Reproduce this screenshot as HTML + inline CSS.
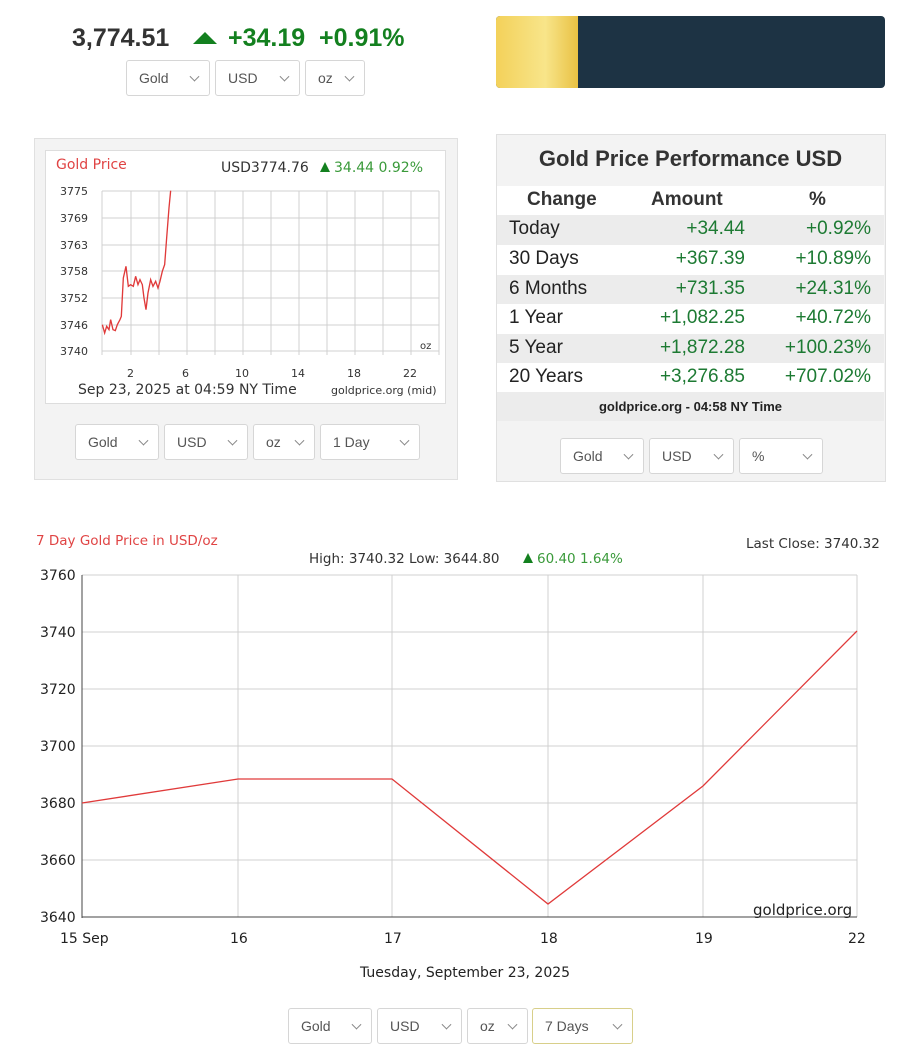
<!DOCTYPE html>
<html><head><meta charset="utf-8"><style>
body{margin:0;width:923px;height:1055px;background:#fff;position:relative;font-family:"Liberation Sans","DejaVu Sans",sans-serif;overflow:hidden}
.a{position:absolute}
.dd{position:absolute;box-sizing:border-box;border:1px solid #d6d6d6;border-radius:3px;background:#fff;font-size:14px;color:#555;padding-left:12px;display:flex;align-items:center}
.dd:after{content:"";position:absolute;right:11px;top:50%;width:6px;height:6px;border-right:1px solid #888;border-bottom:1px solid #888;transform:translateY(-70%) rotate(45deg)}
.row{position:absolute;left:497px;width:387px;height:30px;font-size:19px;color:#222}
.row span{position:absolute;top:3px}
.g{color:#1d7a33}
</style></head><body>
<div class="a" style="left:72px;top:24px;font-size:25px;font-weight:bold;color:#333">3,774.51</div>
<div class="a" style="left:193px;top:32px;width:0;height:0;border-left:12px solid transparent;border-right:12px solid transparent;border-bottom:12px solid #13801f"></div>
<div class="a" style="left:228px;top:24px;font-size:25px;font-weight:bold;color:#13801f">+34.19&nbsp; +0.91%</div>
<div class="dd" style="left:126px;top:60px;width:84px;height:36px">Gold</div>
<div class="dd" style="left:215px;top:60px;width:85px;height:36px">USD</div>
<div class="dd" style="left:305px;top:60px;width:60px;height:36px">oz</div>
<div class="a" style="left:496px;top:16px;width:389px;height:72px;border-radius:4px;background:#1d3344;overflow:hidden"><div style="width:82px;height:72px;background:linear-gradient(90deg,#f3d15a,#f8e58a 60%,#e9c143)"></div></div>

<div class="a" style="left:34px;top:138px;width:424px;height:342px;background:#f3f3f3;border:1px solid #e0e0e0;box-sizing:border-box"></div>
<div class="a" style="left:45px;top:150px;width:401px;height:254px;background:#fff;border:1px solid #ddd;box-sizing:border-box"></div>
<svg class="a" style="left:0;top:0" width="923" height="1055">
<g font-family="DejaVu Sans,sans-serif" font-size="11" fill="#333">
<text x="56" y="169" fill="#e04444" font-size="14">Gold Price</text>
<text x="221" y="172" font-size="14">USD3774.76</text>
<polygon points="320,172 330,172 325,162" fill="#13801f"/>
<text x="334" y="172" font-size="14" fill="#3a9a3a">34.44 0.92%</text>
<g stroke="#d0d0d0" stroke-width="1">
<line x1="102" y1="191" x2="439" y2="191"/><line x1="102" y1="218" x2="439" y2="218"/><line x1="102" y1="245" x2="439" y2="245"/><line x1="102" y1="271" x2="439" y2="271"/><line x1="102" y1="298" x2="439" y2="298"/><line x1="102" y1="325" x2="439" y2="325"/><line x1="102" y1="351" x2="439" y2="351"/>
<line x1="102" y1="191" x2="102" y2="355"/><line x1="131" y1="191" x2="131" y2="355"/><line x1="159" y1="191" x2="159" y2="355"/><line x1="187" y1="191" x2="187" y2="355"/><line x1="215" y1="191" x2="215" y2="355"/><line x1="243" y1="191" x2="243" y2="355"/><line x1="271" y1="191" x2="271" y2="355"/><line x1="299" y1="191" x2="299" y2="355"/><line x1="327" y1="191" x2="327" y2="355"/><line x1="355" y1="191" x2="355" y2="355"/><line x1="383" y1="191" x2="383" y2="355"/><line x1="411" y1="191" x2="411" y2="355"/><line x1="439" y1="191" x2="439" y2="355"/>
</g>
<text x="60" y="195">3775</text><text x="60" y="222">3769</text><text x="60" y="249">3763</text><text x="60" y="275">3758</text><text x="60" y="302">3752</text><text x="60" y="329">3746</text><text x="60" y="355">3740</text>
<text x="420" y="349" font-size="10">oz</text>
<text x="127" y="377">2</text><text x="182" y="377">6</text><text x="235" y="377">10</text><text x="291" y="377">14</text><text x="347" y="377">18</text><text x="403" y="377">22</text>
<text x="78" y="394" font-size="14">Sep 23, 2025 at 04:59 NY Time</text>
<text x="331" y="394" font-size="11">goldprice.org (mid)</text>
<g transform="translate(34,138) scale(0.3333)"><polyline fill="none" stroke="#e03a3a" stroke-width="4" points="205,560 212,585 218,565 225,575 230,545 237,575 244,578 250,560 258,545 262,535 268,420 276,385 283,445 290,440 298,445 305,415 312,440 318,425 325,440 330,480 336,515 342,465 350,425 357,445 365,430 372,450 378,430 385,400 392,380 398,300 405,210 410,158"/></g>

<text x="36" y="545" fill="#e04444" font-size="13.5">7 Day Gold Price in USD/oz</text>
<text x="746" y="548" font-size="13.5">Last Close: 3740.32</text>
<text x="309" y="563" font-size="13.5">High: 3740.32 Low: 3644.80</text>
<polygon points="523,563 533,563 528,553" fill="#13801f"/>
<text x="537" y="563" font-size="13.5" fill="#3a9a3a">60.40 1.64%</text>
<g stroke="#d0d0d0" stroke-width="1">
<line x1="82" y1="575" x2="857" y2="575"/><line x1="82" y1="632" x2="857" y2="632"/><line x1="82" y1="689" x2="857" y2="689"/><line x1="82" y1="746" x2="857" y2="746"/><line x1="82" y1="803" x2="857" y2="803"/><line x1="82" y1="860" x2="857" y2="860"/>
<line x1="238" y1="575" x2="238" y2="917"/><line x1="392" y1="575" x2="392" y2="917"/><line x1="548" y1="575" x2="548" y2="917"/><line x1="703" y1="575" x2="703" y2="917"/><line x1="857" y1="575" x2="857" y2="917"/>
</g>
<line x1="82" y1="575" x2="82" y2="918" stroke="#444"/><line x1="82" y1="917" x2="857" y2="917" stroke="#444"/>
<g font-size="14" fill="#222"><text x="40" y="580">3760</text><text x="40" y="637">3740</text><text x="40" y="694">3720</text><text x="40" y="751">3700</text><text x="40" y="808">3680</text><text x="40" y="865">3660</text><text x="40" y="922">3640</text>
<text x="60" y="943">15 Sep</text><text x="230" y="943">16</text><text x="384" y="943">17</text><text x="540" y="943">18</text><text x="695" y="943">19</text><text x="848" y="943">22</text>
<text x="360" y="977">Tuesday, September 23, 2025</text>
<text x="753" y="915" font-size="15">goldprice.org</text></g>
<polyline fill="none" stroke="#e03a3a" stroke-width="1.3" points="82,803 238,779 392,779 548,904 703,786 857,631"/>
</g></svg>
<div class="dd" style="left:75px;top:424px;width:84px;height:36px">Gold</div>
<div class="dd" style="left:164px;top:424px;width:84px;height:36px">USD</div>
<div class="dd" style="left:253px;top:424px;width:62px;height:36px">oz</div>
<div class="dd" style="left:320px;top:424px;width:100px;height:36px">1 Day</div>

<div class="a" style="left:496px;top:134px;width:390px;height:348px;background:#f3f3f3;border:1px solid #e0e0e0;box-sizing:border-box"></div>
<div class="a" style="left:497px;top:146px;width:387px;text-align:center;font-size:22px;font-weight:bold;color:#333">Gold Price Performance USD</div>
<div class="row" style="top:186px;height:29px;background:#fff;font-weight:bold;color:#333"><span style="left:30px">Change</span><span style="left:154px">Amount</span><span style="left:312px">%</span></div>
<div class="row" style="top:215px;background:#ececec"><span style="left:12px">Today</span><span class="g" style="right:139px">+34.44</span><span class="g" style="right:13px">+0.92%</span></div>
<div class="row" style="top:245px;background:#fff"><span style="left:12px">30 Days</span><span class="g" style="right:139px">+367.39</span><span class="g" style="right:13px">+10.89%</span></div>
<div class="row" style="top:275px;background:#ececec"><span style="left:12px">6 Months</span><span class="g" style="right:139px">+731.35</span><span class="g" style="right:13px">+24.31%</span></div>
<div class="row" style="top:304px;background:#fff"><span style="left:12px">1 Year</span><span class="g" style="right:139px">+1,082.25</span><span class="g" style="right:13px">+40.72%</span></div>
<div class="row" style="top:334px;background:#ececec"><span style="left:12px">5 Year</span><span class="g" style="right:139px">+1,872.28</span><span class="g" style="right:13px">+100.23%</span></div>
<div class="row" style="top:363px;background:#fff"><span style="left:12px">20 Years</span><span class="g" style="right:139px">+3,276.85</span><span class="g" style="right:13px">+707.02%</span></div>
<div class="row" style="top:392px;height:29px;background:#ececec;font-size:13px;font-weight:bold;text-align:center"><span style="left:0;right:0;top:7px">goldprice.org - 04:58 NY Time</span></div>
<div class="dd" style="left:560px;top:438px;width:84px;height:36px">Gold</div>
<div class="dd" style="left:649px;top:438px;width:85px;height:36px">USD</div>
<div class="dd" style="left:739px;top:438px;width:84px;height:36px">%</div>

<div class="dd" style="left:288px;top:1008px;width:84px;height:36px">Gold</div>
<div class="dd" style="left:377px;top:1008px;width:85px;height:36px">USD</div>
<div class="dd" style="left:467px;top:1008px;width:61px;height:36px">oz</div>
<div class="dd" style="left:532px;top:1008px;width:101px;height:36px;border-color:#d8cf8a">7 Days</div>
</body></html>
